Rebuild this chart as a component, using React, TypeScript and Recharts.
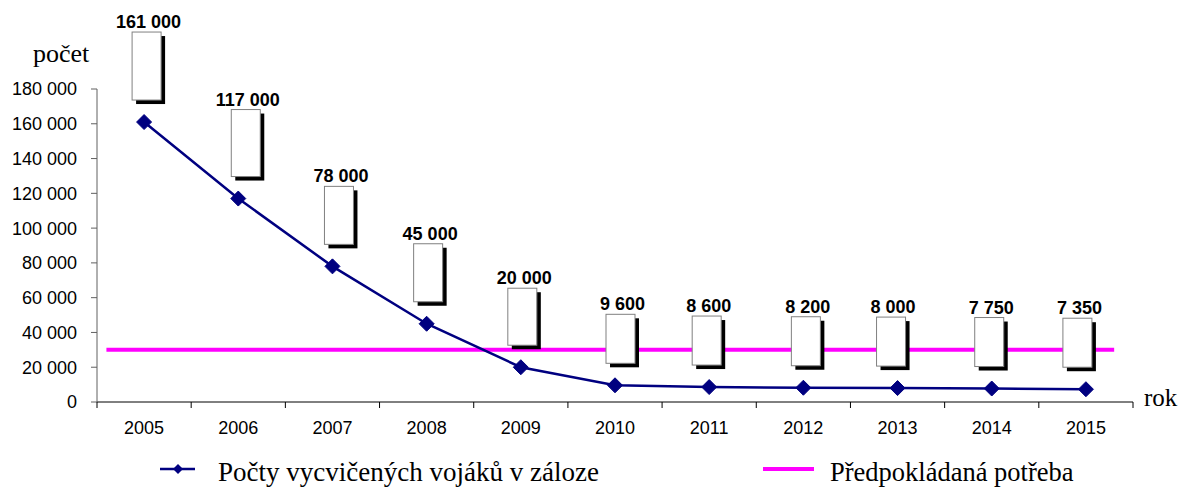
import React from 'react';
import { LineChart, Line, XAxis, YAxis, ReferenceLine, LabelList } from 'recharts';

const years = ['2005', '2006', '2007', '2008', '2009', '2010', '2011', '2012', '2013', '2014', '2015'];
const trainedReserves = [161000, 117000, 78000, 45000, 20000, 9600, 8600, 8200, 8000, 7750, 7350];
const expectedNeed = 30000;
const yTicks = [0, 20000, 40000, 60000, 80000, 100000, 120000, 140000, 160000, 180000];

// callout styling (box heights and horizontal offsets, in px)
const calloutHeights = [68, 67, 58, 58, 57, 49, 49, 49, 49, 49, 49];
const calloutDx = [-12, -7, -8, -13, -13, -9, -17, -12, -21, -17, -23];

const seriesName = 'Počty vycvičených vojáků v záloze';
const needName = 'Předpokládaná potřeba';

const data = years.map((year, i) => ({ x: i + 0.5, year, value: trainedReserves[i] }));
const xTicks: number[] = [];
for (let i = 0; i <= years.length * 2; i++) xTicks.push(i / 2);

const fmt = (n: number) => String(n).replace(/\B(?=(\d{3})+(?!\d))/g, ' ');

const SANS = '"Liberation Sans", Arial, sans-serif';
const SERIF = '"Liberation Serif", "Times New Roman", serif';
const NAVY = '#000080';
const MAGENTA = '#FF00FF';

const XTick = (props: any) => {
  const { x, y, payload } = props;
  const v = payload.value as number;
  if (Number.isInteger(v)) {
    return <line x1={x} x2={x} y1={y - 6} y2={y} stroke="#000" strokeWidth={1} />;
  }
  const idx = Math.round(v - 0.5);
  return (
    <text x={x} y={y + 26} textAnchor="middle" fontSize={18} fontFamily={SANS} fill="#000">
      {years[idx]}
    </text>
  );
};

const Diamond = (props: any) => {
  const { cx, cy } = props;
  if (cx == null || cy == null) return null;
  const r = 7.5;
  return (
    <polygon
      points={`${cx},${cy - r} ${cx + r},${cy} ${cx},${cy + r} ${cx - r},${cy}`}
      fill={NAVY}
      stroke={NAVY}
    />
  );
};

const Callout = (props: any) => {
  const { x, y, value, index } = props;
  if (x == null || y == null) return null;
  const w = 29;
  const h = calloutHeights[index] ?? 50;
  const left = x + (calloutDx[index] ?? -14);
  const bottom = y - 22;
  const top = bottom - h;
  return (
    <g>
      <rect x={left + 4} y={top + 4} width={w} height={h} fill="#000" />
      <rect x={left} y={top} width={w} height={h} fill="#fff" stroke="#808080" strokeWidth={1} />
      <text
        x={left + w / 2 + 2}
        y={top - 4}
        textAnchor="middle"
        fontSize={18}
        fontWeight="bold"
        fontFamily={SANS}
        fill="#000"
      >
        {fmt(value)}
      </text>
    </g>
  );
};

export default function App() {
  const W = 1170;
  const H = 479;
  return (
    <div style={{ position: 'relative', width: W, height: H }}>
      <LineChart
        width={W}
        height={H}
        data={data}
        margin={{ top: 81, right: 45, left: 0, bottom: 45 }}
      >
        <XAxis
          dataKey="x"
          type="number"
          domain={[0, years.length]}
          ticks={xTicks}
          interval={0}
          tickLine={false}
          tickSize={6}
          tickMargin={0}
          height={40}
          axisLine={{ stroke: '#000', strokeWidth: 1 }}
          tick={<XTick />}
          allowDecimals
        />
        <YAxis
          type="number"
          domain={[0, 180000]}
          ticks={yTicks}
          interval={0}
          width={89}
          tickSize={6}
          tickMargin={14}
          tickFormatter={fmt}
          axisLine={{ stroke: '#606060', strokeWidth: 1 }}
          tickLine={{ stroke: '#606060', strokeWidth: 1 }}
          tick={{ fontSize: 18, fontFamily: SANS, fill: '#000' }}
        />
        <ReferenceLine
          segment={[
            { x: 0.1, y: expectedNeed },
            { x: 10.8, y: expectedNeed },
          ]}
          stroke={MAGENTA}
          strokeWidth={4}
          ifOverflow="visible"
        />
        <Line
          type="linear"
          dataKey="value"
          name={seriesName}
          stroke={NAVY}
          strokeWidth={2.5}
          dot={<Diamond />}
          activeDot={false}
          isAnimationActive={false}
        >
          <LabelList dataKey="value" content={<Callout />} />
        </Line>
      </LineChart>
      <svg
        width={W}
        height={H}
        style={{ position: 'absolute', left: 0, top: 0, pointerEvents: 'none' }}
      >
        <text x={25} y={54} fontSize={26} fontFamily={SERIF} fill="#000">počet</text>
        <text x={1136} y={398} fontSize={25} fontFamily={SERIF} fill="#000">rok</text>
        <line x1={152} x2={187} y1={461} y2={461} stroke={NAVY} strokeWidth={2.5} />
        <polygon points="170,456 175,461 170,466 165,461" fill={NAVY} />
        <text x={210} y={473} fontSize={27} fontFamily={SERIF} fill="#000">{seriesName}</text>
        <line x1={755} x2={806} y1={461} y2={461} stroke={MAGENTA} strokeWidth={4} />
        <text x={822} y={473} fontSize={26.5} fontFamily={SERIF} fill="#000">{needName}</text>
      </svg>
    </div>
  );
}
